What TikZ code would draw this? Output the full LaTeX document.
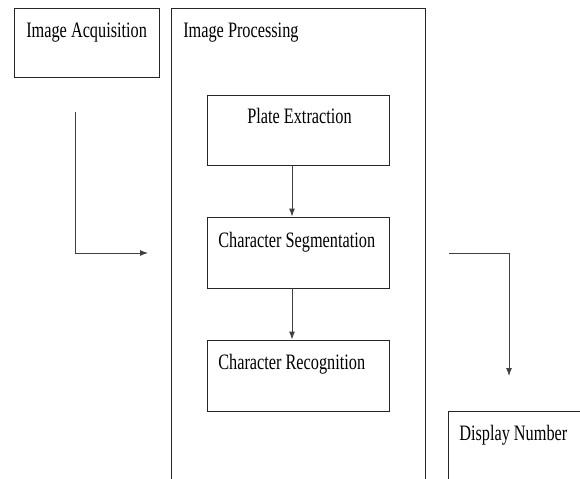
\documentclass[tikz,border=0pt]{standalone}
\usepackage{fontspec}
\setmainfont{Liberation Serif}[FakeStretch=0.74]
\usetikzlibrary{arrows.meta}

\tikzset{
    box/.style 2 args={draw=black!85, line width=0.7pt, minimum width=#1*0.75pt, minimum height=#2*0.75pt, inner sep=0pt},
    txt/.style={anchor=base west, inner sep=0pt, font=\fontsize{16.5pt}{19pt}\selectfont},
    arr/.style={draw=black!75, line width=0.7pt, -{Latex[length=6pt,width=4.5pt]}}
}

\begin{document}
\begin{tikzpicture}[x=0.75pt,y=-0.75pt]
    \useasboundingbox (0,0) rectangle (580,478);
    \clip (0,0) rectangle (580,478);

    \node[box={145}{69}] (acq) at (86.5,42.5) {};
    \node[box={254}{492}] (proc) at (298,254) {};
    \node[box={182}{70}] (plate) at (298,130) {};
    \node[box={182}{71}] (seg) at (298,252.5) {};
    \node[box={182}{71}] (rec) at (298,375.5) {};
    \node[box={172}{109}] (disp) at (534,465.5) {};

    \node[txt] (acqtxt) at (26,38) {Image Acquisition};
    \node[txt] (proctxt) at (183,38) {Image Processing};
    \node[txt] (platetxt) at (247,123) {Plate Extraction};
    \node[txt] (segtxt) at (218,247) {Character Segmentation};
    \node[txt] (rectxt) at (218,369) {Character Recognition};
    \node[txt] (disptxt) at (459,440) {Display Number};

    \coordinate (l1) at (75,112);
    \coordinate (l2) at (148,253);
    \coordinate (r1) at (449,253);
    \coordinate (r2) at (509,376);

    \draw[arr] ([xshift=-4.5pt]plate.south) -- ([xshift=-4.5pt]seg.north);
    \draw[arr] ([xshift=-4.5pt]seg.south) -- ([xshift=-4.5pt]rec.north);
    \draw[arr] (l1) |- (l2);
    \draw[arr] (r1) -| (r2);
\end{tikzpicture}
\end{document}
